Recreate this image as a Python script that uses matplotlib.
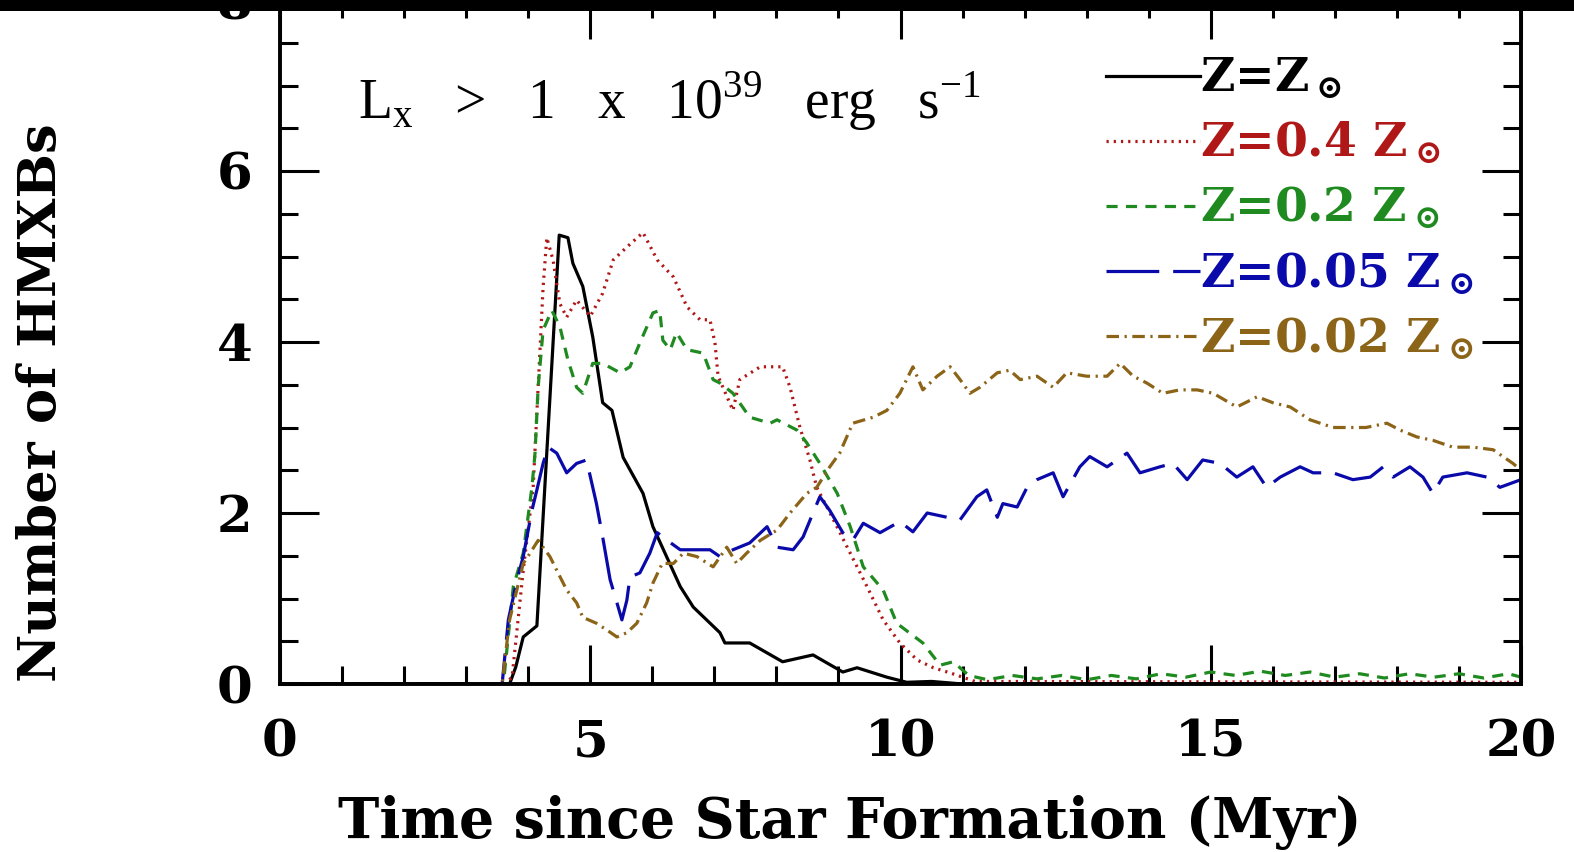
import matplotlib
matplotlib.use("Agg")
import matplotlib.pyplot as plt
from matplotlib.font_manager import FontProperties
from matplotlib.patches import Rectangle
from matplotlib.ticker import MultipleLocator

# ---------------- data ----------------
t_solar = [0, 3.70, 3.80, 3.92, 4.14, 4.50, 4.64, 4.72, 4.88, 5.04, 5.20, 5.35, 5.53, 5.85,
           6.01, 6.45, 6.66, 7.09, 7.17, 7.57, 8.10, 8.59, 9.07, 9.30, 9.78, 10.1, 10.5, 11.0, 20]
n_solar = [0, 0, 0.2, 0.55, 0.68, 5.25, 5.22, 4.92, 4.65, 4.06, 3.29, 3.2, 2.65, 2.23,
           1.84, 1.14, 0.9, 0.6, 0.48, 0.48, 0.26, 0.34, 0.14, 0.19, 0.08, 0.02, 0.03, 0.0, 0]

t_04 = [0, 3.62, 3.74, 3.92, 4.08, 4.16, 4.24, 4.30, 4.40, 4.51, 4.62, 4.78, 5.0, 5.2, 5.37,
        5.59, 5.85, 6.08, 6.34, 6.56, 6.77, 6.93, 7.01, 7.06, 7.3, 7.41, 7.74, 8.1, 8.22, 8.38,
        8.54, 8.65, 8.92, 9.19, 9.46, 9.72, 9.99, 10.27, 10.53, 10.8, 11.2, 20]
n_04 = [0, 0, 0.08, 1.33, 2.3, 3.47, 4.64, 5.22, 4.96, 4.45, 4.29, 4.49, 4.3, 4.57, 4.96,
        5.11, 5.28, 4.96, 4.76, 4.41, 4.26, 4.26, 3.99, 3.6, 3.2, 3.56, 3.71, 3.71, 3.47, 3.0,
        2.62, 2.3, 1.92, 1.53, 1.14, 0.75, 0.48, 0.28, 0.19, 0.13, 0.03, 0.02]

t_02 = [0, 3.60, 3.76, 3.92, 4.06, 4.11, 4.16, 4.24, 4.38, 4.51, 4.64, 4.78, 4.88, 5.04, 5.20,
        5.48, 5.64, 5.80, 6.01, 6.12, 6.17, 6.29, 6.39, 6.56, 6.82, 6.98, 7.09, 7.30, 7.57, 7.90,
        8.01, 8.33, 8.49, 8.70, 8.98, 9.19, 9.40, 9.72, 9.94, 10.36, 10.64, 10.85,
        11.1, 11.4, 11.8, 12.2, 12.6, 13.0, 13.4, 13.8, 14.2, 14.6, 15.0, 15.4, 15.8, 16.2,
        16.6, 17.0, 17.4, 17.8, 18.2, 18.6, 19.0, 19.4, 19.8, 20]
n_02 = [0, 0, 1.14, 1.53, 2.3, 2.7, 3.47, 4.14, 4.37, 4.18, 3.79, 3.47, 3.4, 3.75, 3.75,
        3.64, 3.71, 3.99, 4.34, 4.37, 4.02, 3.91, 4.11, 3.91, 3.87, 3.56, 3.52, 3.4, 3.12, 3.05,
        3.09, 2.97, 2.82, 2.58, 2.23, 1.84, 1.37, 1.1, 0.71, 0.48, 0.22, 0.26,
        0.1, 0.05, 0.1, 0.06, 0.1, 0.05, 0.1, 0.06, 0.12, 0.08, 0.14, 0.1, 0.15, 0.1,
        0.14, 0.08, 0.12, 0.07, 0.12, 0.08, 0.12, 0.07, 0.12, 0.08]

t_005 = [0, 3.58, 3.68, 3.82, 3.92, 4.06, 4.14, 4.24, 4.32, 4.46, 4.62, 4.78, 4.94, 5.10, 5.20,
         5.32, 5.43, 5.51, 5.59, 5.64, 5.80, 5.96, 6.08, 6.24, 6.45, 6.77, 6.93, 7.09, 7.30, 7.57,
         7.85, 8.01, 8.27, 8.43, 8.59, 8.70, 8.86, 9.07, 9.23, 9.40, 9.67, 9.99, 10.20, 10.43,
         10.75, 10.96, 11.23, 11.39, 11.56, 11.65, 11.88, 12.04, 12.20, 12.46, 12.62, 12.89,
         13.05, 13.33, 13.65, 13.86, 14.18, 14.39, 14.62, 14.87, 15.15, 15.42, 15.68, 15.90,
         16.12, 16.44, 16.65, 16.97, 17.29, 17.57, 17.78, 17.94, 18.21, 18.42, 18.58, 18.74,
         19.13, 19.45, 19.66, 20.0]
n_005 = [0, 0, 0.75, 1.22, 1.49, 2.03, 2.27, 2.58, 2.77, 2.70, 2.47, 2.58, 2.62, 2.11, 1.72,
         1.22, 0.95, 0.75, 0.98, 1.25, 1.30, 1.53, 1.77, 1.68, 1.57, 1.57, 1.57, 1.49, 1.57, 1.65,
         1.84, 1.60, 1.57, 1.72, 2.00, 2.19, 2.03, 1.77, 1.68, 1.88, 1.77, 1.90, 1.78, 2.00,
         1.95, 1.92, 2.19, 2.27, 1.95, 2.11, 2.07, 2.30, 2.39, 2.47, 2.19, 2.54,
         2.66, 2.54, 2.70, 2.47, 2.54, 2.58, 2.39, 2.62, 2.58, 2.42, 2.54, 2.30,
         2.42, 2.54, 2.47, 2.47, 2.39, 2.42, 2.54, 2.42, 2.54, 2.42, 2.23, 2.42,
         2.47, 2.42, 2.30, 2.39]

t_002 = [0, 3.58, 3.70, 3.92, 4.03, 4.16, 4.35, 4.46, 4.62, 4.78, 4.88, 5.10, 5.27, 5.43, 5.59,
         5.75, 5.91, 6.01, 6.16, 6.34, 6.50, 6.72, 6.98, 7.20, 7.36, 7.52, 7.74, 8.01, 8.22, 8.49,
         8.65, 8.86, 9.02, 9.23, 9.56, 9.78, 9.99, 10.20, 10.36, 10.59, 10.80, 10.96, 11.12,
         11.28, 11.56, 11.76, 11.93, 12.20, 12.46, 12.68, 13.00, 13.33, 13.54, 13.75, 13.97,
         14.23, 14.50, 14.78, 15.04, 15.42, 15.75, 16.00, 16.28, 16.60, 16.97, 17.24, 17.50,
         17.84, 18.05, 18.32, 18.58, 18.90, 19.23, 19.55, 19.87, 20.0]
n_002 = [0, 0, 0.75, 1.41, 1.53, 1.68, 1.49, 1.33, 1.10, 0.95, 0.78, 0.71, 0.63, 0.55, 0.60,
         0.71, 0.95, 1.18, 1.41, 1.41, 1.53, 1.49, 1.37, 1.60, 1.41, 1.53, 1.68, 1.80, 2.00, 2.23,
         2.30, 2.54, 2.70, 3.05, 3.12, 3.20, 3.40, 3.71, 3.44, 3.60, 3.71, 3.56, 3.40,
         3.47, 3.64, 3.67, 3.56, 3.60, 3.47, 3.64, 3.60, 3.60, 3.75, 3.60, 3.52,
         3.40, 3.44, 3.44, 3.40, 3.24, 3.36, 3.29, 3.24, 3.09, 3.00, 3.00, 3.00,
         3.05, 2.97, 2.89, 2.85, 2.77, 2.77, 2.74, 2.58, 2.50]

labels = [r"Z=$\mathbf{Z}_\odot$", r"Z=0.4 $\mathbf{Z}_\odot$", r"Z=0.2 $\mathbf{Z}_\odot$",
          r"Z=0.05 $\mathbf{Z}_\odot$", r"Z=0.02 $\mathbf{Z}_\odot$"]
x_ticks = [0, 5, 10, 15, 20]
y_ticks = [0, 2, 4, 6, 8]

# ---------------- styling ----------------
plt.rcParams['lines.scale_dashes'] = False
plt.rcParams['font.family'] = ['DejaVu Serif']
plt.rcParams['font.weight'] = 'bold'
plt.rcParams['axes.labelweight'] = 'bold'
plt.rcParams['mathtext.fontset'] = 'dejavuserif'

fig = plt.figure(figsize=(15.74, 8.52), dpi=100)
ax = fig.add_axes([280/1574, 1 - 684/852, 1241/1574, 684/852])

c_black = "#000000"
c_red = "#b01818"
c_green = "#1f8a1f"
c_blue = "#0a0aaa"
c_brown = "#8c6418"

series = [
    (t_solar, n_solar, c_black, '-'),
    (t_04, n_04, c_red, (0, (1.6, 3.6))),
    (t_02, n_02, c_green, (0, (8, 6))),
    (t_005, n_005, c_blue, (0, (38, 10))),
    (t_002, n_002, c_brown, (0, (9, 4, 1.6, 4))),
]
handles = []
for (t, n, c, ls), lab in zip(series, labels):
    h, = ax.plot(t, n, color=c, linestyle=ls, lw=2.3, label=lab)
    handles.append(h)

ax.set_xlim(0, 20)
ax.set_ylim(0, 8)
ax.set_xticks(x_ticks)
ax.set_yticks(y_ticks)
ax.xaxis.set_minor_locator(MultipleLocator(1))
ax.yaxis.set_minor_locator(MultipleLocator(0.5))
ax.tick_params(which='both', direction='in', top=True, right=True, width=2.2)
ax.tick_params(which='major', length=28, labelsize=37)
ax.tick_params(axis='x', which='major', pad=25)
ax.tick_params(axis='y', which='major', pad=20)
ax.tick_params(which='minor', length=13)
for s in ax.spines.values():
    s.set_linewidth(2.8)

ax.set_xlabel("Time since Star Formation (Myr)", fontsize=40, fontweight='bold')
ax.set_ylabel("Number of HMXBs", fontsize=38, fontweight='bold')
ax.xaxis.set_label_coords(0.459, -0.163)
ax.yaxis.set_label_coords(-0.172, 0.412)

ax.text(0.063, 0.826, r"L$_\mathregular{x}$   >   1   x   10$^\mathregular{39}$   erg   s$^\mathregular{-1}$",
        transform=ax.transAxes, fontsize=40, family='Liberation Serif', weight='normal',
        va='baseline')

leg = ax.legend(handles=handles, loc='upper right', bbox_to_anchor=(0.962, 0.918),
                frameon=False, handlelength=2.0, handletextpad=0.0, labelspacing=0.4,
                borderpad=0, borderaxespad=0, labelcolor='linecolor',
                prop=FontProperties(family='DejaVu Serif', size=34, weight='bold'))

fig.patches.append(Rectangle((0, 1 - 11/852), 1, 11/852, transform=fig.transFigure,
                             facecolor='black', edgecolor='none', zorder=10))

fig.savefig("out.png", dpi=100)
